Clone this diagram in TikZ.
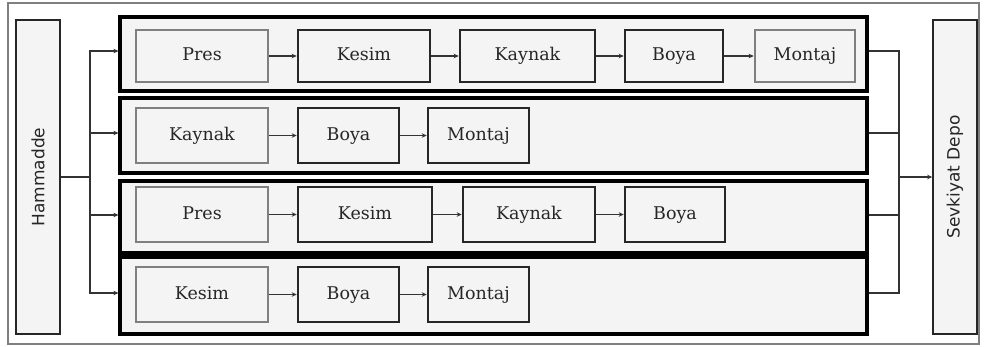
\documentclass[tikz,border=0pt]{standalone}
\usepackage{fontspec}
\setmainfont{DejaVu Serif}
\newfontfamily\sansf{DejaVu Sans}
\usetikzlibrary{arrows.meta,positioning,calc}
\definecolor{fillg}{HTML}{F4F4F4}
\definecolor{edgeg}{HTML}{7F7F7F}
\definecolor{txt}{HTML}{262626}
\tikzset{
  boxbase/.style={rectangle,fill=fillg,line width=2.6pt,font=\fontsize{17.5}{20}\selectfont,text=txt,inner sep=0pt,text height=12.5pt,text depth=3.5pt},
  blackbox/.style={boxbase,draw=black!85},
  graybox/.style={boxbase,draw=edgeg},
  rowbox/.style={rectangle,fill=fillg,draw=black,line width=3.2pt,inner sep=0pt},
  endbox/.style={rectangle,fill=fillg,draw=black!85,line width=1.6pt,inner sep=0pt,minimum width=44pt,minimum height=314pt},
  endtext/.style={rotate=90,font=\sansf\fontsize{17}{20}\selectfont,text=txt},
  conn/.style={line width=1.3pt,draw=black!80},
  arr/.style={conn,-{Stealth[length=5pt,width=4.5pt]}},
}
\begin{document}
\begin{tikzpicture}[x=1pt,y=-1pt]
\useasboundingbox (0,0) rectangle (987,346);
\node[draw=edgeg,line width=1.6pt,minimum width=971pt,minimum height=341pt,inner sep=0pt] (frame) at (493.5,173.5) {};
% end boxes
\node[endbox] (hm) at (38,177) {};
\node[endtext] (hmt) at (hm.center) {Hammadde};
\node[endbox] (sd) at (955,177) {};
\node[endtext] (sdt) at (sd.center) {Sevkiyat Depo};
% rows
\node[rowbox,minimum width=747pt,minimum height=74pt] (r1) at (493.5,54) {};
\node[rowbox,minimum width=747pt,minimum height=75pt] (r2) at (493.5,135.5) {};
\node[rowbox,minimum width=747pt,minimum height=72pt] (r3) at (493.5,217) {};
\node[rowbox,minimum width=747pt,minimum height=77pt] (r4) at (493.5,295.5) {};
% row 1
\node[graybox,minimum width=132pt,minimum height=52pt] (a1) at (202,56) {Pres};
\node[blackbox,minimum width=132pt,minimum height=52pt] (a2) at (364,56) {Kesim};
\node[blackbox,minimum width=135pt,minimum height=52pt] (a3) at (527.5,56) {Kaynak};
\node[blackbox,minimum width=98pt,minimum height=52pt] (a4) at (674,56) {Boya};
\node[graybox,minimum width=100pt,minimum height=52pt] (a5) at (805,56) {Montaj};
% row 2
\node[graybox,minimum width=132pt,minimum height=55pt] (b1) at (202,135.5) {Kaynak};
\node[blackbox,minimum width=101pt,minimum height=55pt] (b2) at (348.5,135.5) {Boya};
\node[blackbox,minimum width=101pt,minimum height=55pt] (b3) at (478.5,135.5) {Montaj};
% row 3
\node[graybox,minimum width=132pt,minimum height=55pt] (c1) at (202,214.5) {Pres};
\node[blackbox,minimum width=134pt,minimum height=55pt] (c2) at (365,214.5) {Kesim};
\node[blackbox,minimum width=132pt,minimum height=55pt] (c3) at (529,214.5) {Kaynak};
\node[blackbox,minimum width=100pt,minimum height=55pt] (c4) at (675,214.5) {Boya};
% row 4
\node[graybox,minimum width=132pt,minimum height=55pt] (d1) at (202,294.5) {Kesim};
\node[blackbox,minimum width=101pt,minimum height=55pt] (d2) at (348.5,294.5) {Boya};
\node[blackbox,minimum width=101pt,minimum height=55pt] (d3) at (478.5,294.5) {Montaj};
% arrows in rows
\draw[arr] (a1) -- (a2);
\draw[arr] (a2) -- (a3);
\draw[arr] (a3) -- (a4);
\draw[arr] (a4) -- (a5);
\draw[arr] (b1) -- (b2);
\draw[arr] (b2) -- (b3);
\draw[arr] (c1) -- (c2);
\draw[arr] (c2) -- (c3);
\draw[arr] (c3) -- (c4);
\draw[arr] (d1) -- (d2);
\draw[arr] (d2) -- (d3);
% left distribution
\coordinate (jl) at (90,177);
\coordinate (jr) at (899,177);
\draw[conn] (hm.east) -- (jl);
\draw[arr] (jl) |- ([yshift=3pt]r1.west);
\draw[arr] (jl) |- ([yshift=2.5pt]r2.west);
\draw[arr] (jl) |- ([yshift=2pt]r3.west);
\draw[arr] (jl) |- ([yshift=2.5pt]r4.west);
% right collection
\draw[conn] ([yshift=3pt]r1.east) -| (jr);
\draw[conn] ([yshift=2.5pt]r2.east) -| (jr);
\draw[conn] ([yshift=2pt]r3.east) -| (jr);
\draw[conn] ([yshift=2.5pt]r4.east) -| (jr);
\draw[arr] (jr) -- (sd.west);
\end{tikzpicture}
\end{document}
